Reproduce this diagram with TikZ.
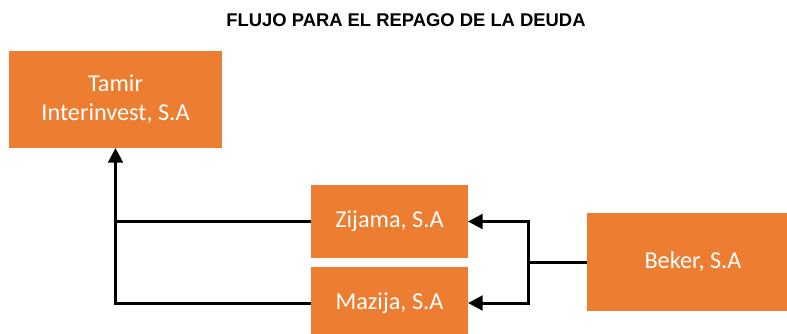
\documentclass[tikz,border=0pt]{standalone}
\usepackage{fontspec}
\setmainfont{Carlito}
\newfontfamily\titlefont{Liberation Sans}
\usetikzlibrary{arrows.meta}
\definecolor{boxorange}{HTML}{ED7D31}
\begin{document}
\begin{tikzpicture}
	[x=0.75pt,y=-0.75pt,
	every node/.style={inner sep=0,outer sep=0},
	firm/.style={fill=boxorange,text=white,align=center,font=\fontsize{18.2}{21.8}\selectfont},
	flow/.style={line width=2.25pt,-{Triangle[length=11pt,width=11pt]}},
	link/.style={line width=2.25pt}]
	\useasboundingbox (0,0) rectangle (787,333);
	\node (title) [font=\titlefont\bfseries\fontsize{13.8}{16}\selectfont] at (406,20) {FLUJO PARA EL REPAGO DE LA DEUDA};
	\node (tamir) [firm, minimum width=213*0.75pt, minimum height=97*0.75pt] at (115.5,99.5) {Tamir \\ Interinvest, S.A};
	\node (zijama) [firm, minimum width=157*0.75pt, minimum height=73*0.75pt] at (389.5,221.5) {Zijama, S.A};
	\node (mazija) [firm, minimum width=157*0.75pt, minimum height=72*0.75pt] at (389.5,303) {Mazija, S.A};
	\node (beker) [firm, minimum width=212*0.75pt, minimum height=98*0.75pt] at (693,262) {Beker, S.A};
	\coordinate (split) at (528,262);
	\draw [link] (zijama.west) -- (zijama.west -| tamir.south);
	\draw [flow] (mazija.west) -| (tamir.south);
	\draw [link] (beker.west) -- (split);
	\draw [flow] (split) |- (zijama.east);
	\draw [flow] (split) |- (mazija.east);
\end{tikzpicture}
\end{document}
